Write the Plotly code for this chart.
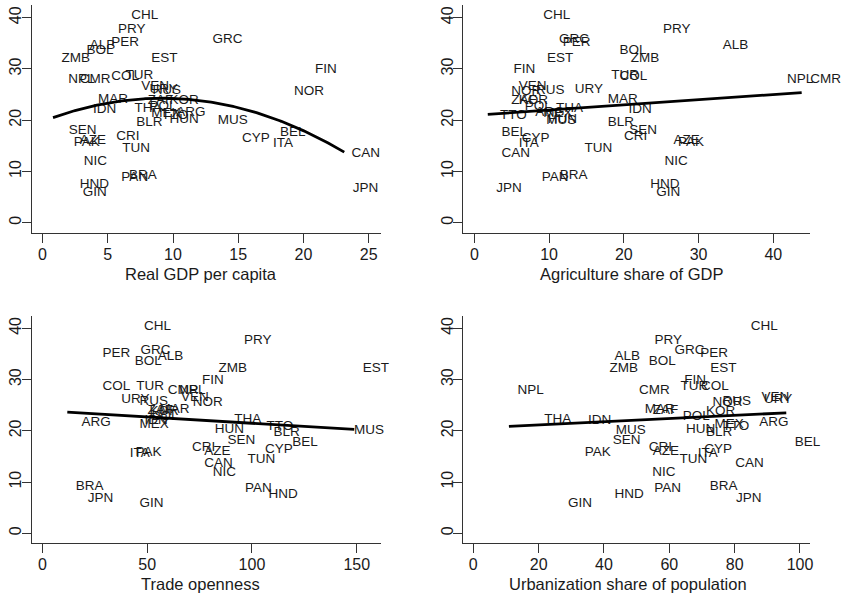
import numpy as np
import plotly.graph_objects as go

countries = ["CHL", "PRY", "GRC", "PER", "ALB", "BOL", "ZMB", "EST", "FIN", "TUR", "COL",
             "NPL", "CMR", "VEN", "URY", "RUS", "NOR", "MAR", "ZAF", "KOR", "POL", "THA",
             "IDN", "ARG", "MEX", "TTO", "HUN", "MUS", "BLR", "SEN", "BEL", "CRI", "CYP",
             "AZE", "PAK", "ITA", "TUN", "CAN", "NIC", "BRA", "PAN", "HND", "JPN", "GIN"]

y_vals = [40.4, 37.6, 35.7, 35.1, 34.5, 33.5, 32.1, 32.1, 29.8, 28.7, 28.6,
          27.9, 27.9, 26.5, 26.0, 25.7, 25.5, 24.1, 23.9, 23.8, 22.7, 22.2,
          22.0, 21.5, 21.2, 20.8, 20.2, 20.0, 19.6, 18.0, 17.6, 16.7, 16.4,
          16.0, 15.7, 15.5, 14.4, 13.5, 11.9, 9.2, 8.7, 7.5, 6.7, 5.8]

gdp_pc = [6.15, 5.13, 12.38, 4.62, 2.96, 2.71, 0.80, 7.68, 20.23, 5.71, 4.62,
          1.31, 2.20, 6.91, 7.55, 7.78, 18.63, 3.60, 7.42, 9.08, 7.55, 6.40,
          3.22, 9.59, 7.68, 8.46, 9.08, 12.77, 6.53, 1.36, 17.55, 5.00, 14.63,
          2.20, 1.74, 17.02, 5.46, 23.03, 2.51, 5.97, 5.39, 2.20, 23.13, 2.43]

agri_share = [8.1, 24.1, 10.2, 10.7, 32.1, 18.3, 19.8, 8.6, 4.1, 17.2, 18.3,
              40.7, 43.8, 4.8, 12.3, 7.1, 3.8, 16.7, 3.8, 4.8, 5.6, 9.8,
              19.5, 7.0, 8.1, 2.3, 8.7, 8.5, 16.7, 19.6, 2.5, 18.9, 5.2,
              25.5, 26.1, 4.8, 13.6, 2.5, 24.3, 10.3, 7.9, 22.4, 1.8, 23.2]

trade_open = [44.5, 92.2, 42.8, 24.6, 51.0, 40.0, 80.0, 148.8, 72.1, 40.8, 24.6,
              61.3, 55.8, 62.1, 33.6, 42.3, 67.7, 51.8, 46.1, 47.1, 48.0, 87.5,
              44.7, 14.6, 42.3, 102.9, 78.2, 144.6, 106.2, 84.3, 115.2, 67.4, 102.2,
              73.2, 40.4, 37.6, 93.8, 73.2, 77.2, 11.9, 92.6, 103.8, 17.6, 42.3]

urban_share = [82.3, 52.9, 59.0, 66.9, 40.6, 51.1, 39.1, 69.9, 62.0, 60.8, 67.1,
               10.9, 48.1, 85.6, 86.4, 73.7, 70.6, 49.9, 52.3, 68.6, 61.5, 19.1,
               32.5, 84.9, 71.2, 73.7, 62.5, 41.0, 68.6, 40.1, 95.8, 51.1, 68.1,
               52.3, 31.5, 66.1, 60.5, 77.6, 52.2, 69.8, 52.8, 40.6, 77.8, 26.4]

x_titles = ["Real GDP per capita", "Agriculture share of GDP",
            "Trade openness", "Urbanization share of population"]
x_ticks = [[0, 5, 10, 15, 20, 25], [0, 10, 20, 30, 40],
           [0, 50, 100, 150], [0, 20, 40, 60, 80, 100]]
y_ticks = [0, 10, 20, 30, 40]
fit_degree = [2, 1, 1, 1]

W, H = 845, 596
FONT = "Liberation Sans, Arial, sans-serif"
INK = "#1a1a1a"

# panel geometry (pixels)
panels = [
    dict(x0=32, x1=382, y0=5, y1=233, xr=[-0.82, 25.92], yr=[-2.01, 42.48], tx=201.5),
    dict(x0=465, x1=813, y0=5, y1=233, xr=[-1.47, 44.93], yr=[-2.01, 42.48], tx=634.0),
    dict(x0=32, x1=382, y0=315.6, y1=543, xr=[-4.99, 161.4], yr=[-1.89, 42.48], tx=201.5),
    dict(x0=465, x1=813, y0=315.6, y1=543, xr=[-3.05, 103.1], yr=[-1.89, 42.48], tx=630.0),
]

xs_all = [gdp_pc, agri_share, trade_open, urban_share]
y = np.array(y_vals)

fig = go.Figure()
annotations = []
for i, (p, xs) in enumerate(zip(panels, xs_all)):
    n = i + 1
    xa = "x" if n == 1 else f"x{n}"
    ya = "y" if n == 1 else f"y{n}"
    x = np.array(xs)
    fig.add_trace(go.Scatter(
        x=x, y=y, text=countries, mode="markers+text", textposition="middle right",
        marker=dict(size=12, color="rgba(0,0,0,0)"),
        textfont=dict(family=FONT, size=13.5, color=INK),
        cliponaxis=False, xaxis=xa, yaxis=ya, showlegend=False, hoverinfo="text"))
    coef = np.polyfit(x, y, fit_degree[i])
    xf = np.linspace(x.min(), x.max(), 200)
    fig.add_trace(go.Scatter(
        x=xf, y=np.polyval(coef, xf), mode="lines",
        line=dict(color="black", width=2.8), xaxis=xa, yaxis=ya,
        showlegend=False, hoverinfo="skip"))

    axis_common = dict(showline=True, linecolor="#333333", linewidth=1.3,
                       ticks="outside", ticklen=9, tickwidth=1.3, tickcolor="#333333",
                       showgrid=False, zeroline=False,
                       tickfont=dict(family=FONT, size=16, color=INK))
    fig.layout[f"xaxis{'' if n == 1 else n}"] = dict(
        domain=[p["x0"] / W, p["x1"] / W], range=p["xr"], anchor=ya,
        tickvals=x_ticks[i], ticklabelstandoff=-2, **axis_common)
    fig.layout[f"yaxis{'' if n == 1 else n}"] = dict(
        domain=[1 - p["y1"] / H, 1 - p["y0"] / H], range=p["yr"], anchor=xa,
        tickvals=y_ticks, tickangle=-90, ticklabelstandoff=-6, **axis_common)
    annotations.append(dict(
        text=x_titles[i], x=p["tx"] / W, y=1 - (p["y1"] + 41) / H,
        xref="paper", yref="paper", xanchor="center", yanchor="middle",
        showarrow=False, font=dict(family=FONT, size=16.5, color=INK)))
    if n in (2, 4):
        annotations.append(dict(
            text=".", x=(p["x0"] - 20) / W, y=1 - ((p["y0"] + p["y1"]) / 2 - 2) / H,
            xref="paper", yref="paper", xanchor="center", yanchor="middle",
            showarrow=False, font=dict(family=FONT, size=13, color=INK)))

fig.update_layout(
    width=W, height=H, margin=dict(l=0, r=0, t=0, b=0),
    paper_bgcolor="white", plot_bgcolor="white",
    annotations=annotations)

fig.write_html("out.html")
